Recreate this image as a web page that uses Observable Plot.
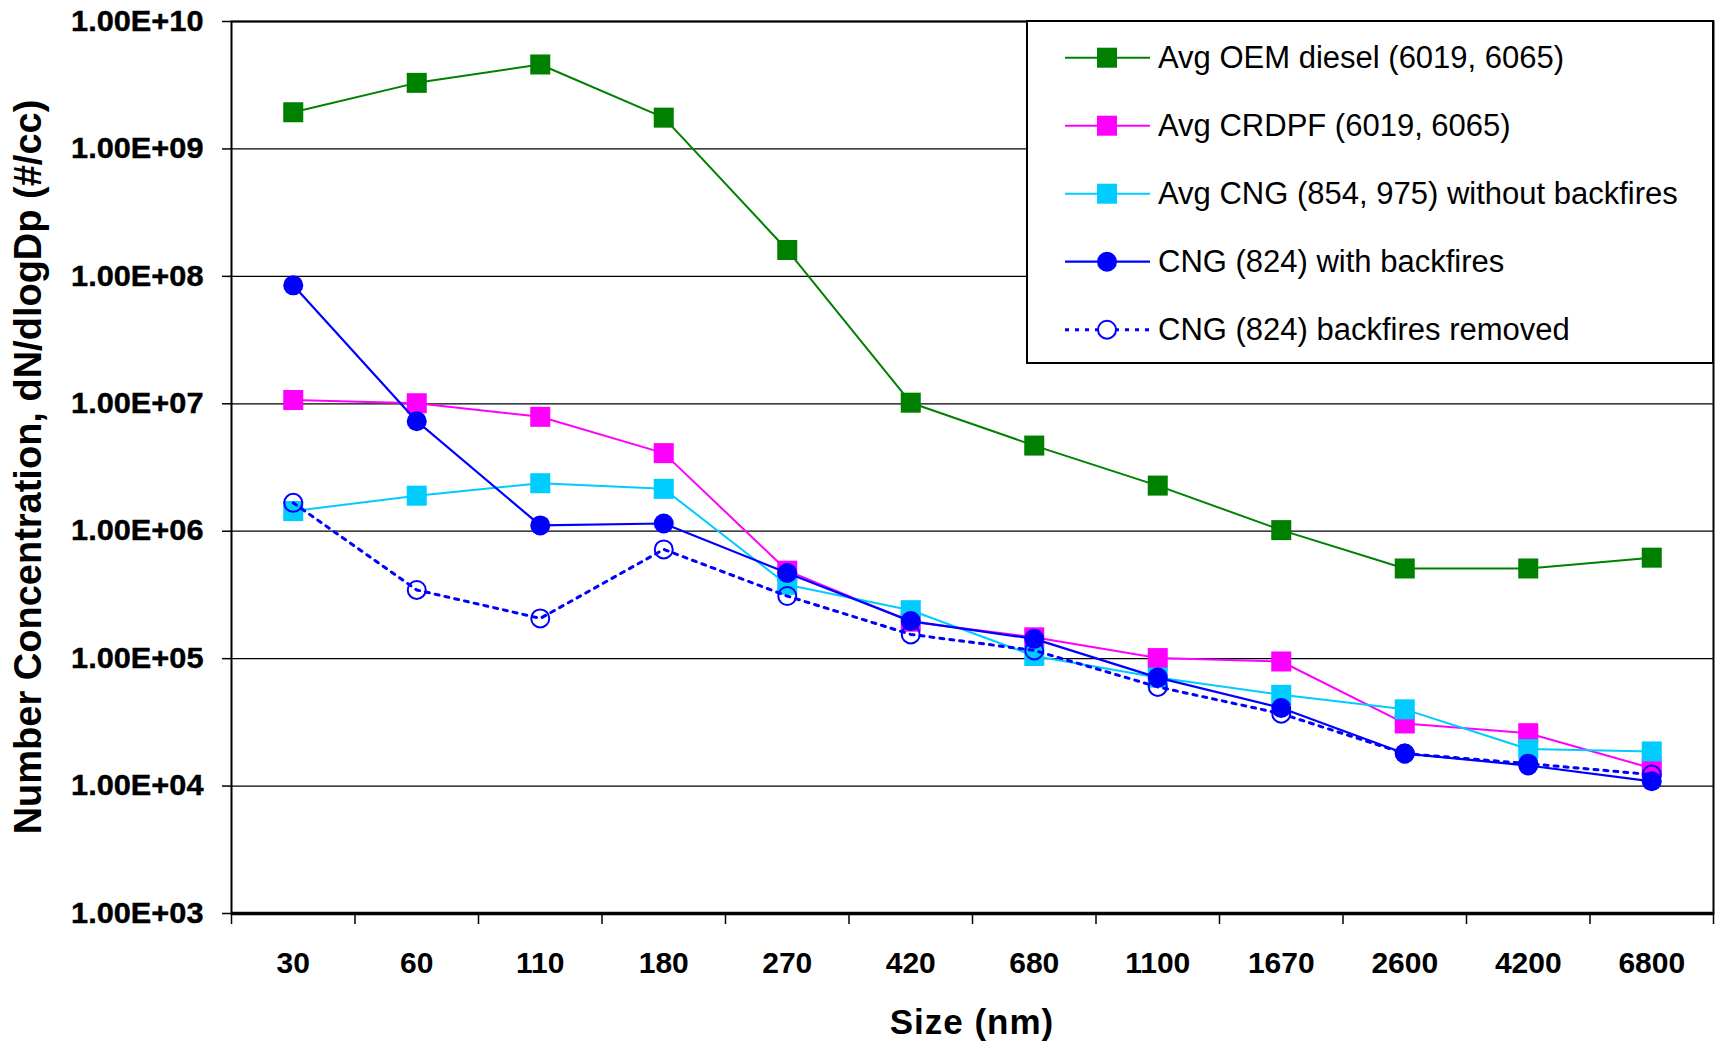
<!DOCTYPE html>
<html>
<head>
<meta charset="utf-8">
<script src="https://cdn.jsdelivr.net/npm/d3@7"></script>
<script src="https://cdn.jsdelivr.net/npm/@observablehq/plot@0.6"></script>
<style>
  html, body { margin: 0; padding: 0; background: #fff; }
  #chart { width: 1715px; height: 1045px; }
</style>
</head>
<body>
<div id="chart"></div>
<script>
// ---- Data ----
const categories = ["30", "60", "110", "180", "270", "420", "680", "1100", "1670", "2600", "4200", "6800"];

const seriesNames = [
  "Avg OEM diesel (6019, 6065)",
  "Avg CRDPF (6019, 6065)",
  "Avg CNG (854, 975) without backfires",
  "CNG (824) with backfires",
  "CNG (824) backfires removed"
];

const oemDiesel    = [1.94e9, 3.3e9, 4.6e9, 1.76e9, 1.61e8, 1.02e7, 4.7e6, 2.28e6, 1.02e6, 5.1e5, 5.1e5, 6.2e5];
const crdpf        = [1.07e7, 1.01e7, 7.9e6, 4.1e6, 4.9e5, 1.95e5, 1.47e5, 1.01e5, 9.5e4, 3.1e4, 2.6e4, 1.38e4];
const cngAvg       = [1.44e6, 1.9e6, 2.38e6, 2.15e6, 3.8e5, 2.4e5, 1.05e5, 7.1e4, 5.2e4, 4.0e4, 1.95e4, 1.87e4];
const cngBackfires = [8.5e7, 7.3e6, 1.11e6, 1.15e6, 4.7e5, 1.97e5, 1.43e5, 7.1e4, 4.1e4, 1.8e4, 1.45e4, 1.09e4];
const cngRemoved   = [1.67e6, 3.46e5, 2.07e5, 7.2e5, 3.1e5, 1.55e5, 1.16e5, 6.0e4, 3.7e4, 1.8e4, 1.5e4, 1.23e4];

const yTicks      = [1e3, 1e4, 1e5, 1e6, 1e7, 1e8, 1e9, 1e10];
const yTickLabels = ["1.00E+03", "1.00E+04", "1.00E+05", "1.00E+06", "1.00E+07", "1.00E+08", "1.00E+09", "1.00E+10"];

const xTitle = "Size (nm)";
const yTitle = "Number Concentration, dN/dlogDp (#/cc)";

// ---- Styles ----
const colors  = ["#008000", "#FF00FF", "#00CCFF", "#0000FF", "#0000FF"];
const markers = ["square", "square", "square", "disc", "ring"];
const lineWidths = [2, 2, 2, 2.2, 3];
const lineDash = [null, null, null, null, "4,6"];

// ---- Layout ----
const W = 1715, H = 1045, ML = 231, MR = 2, MT = 21, MB = 132;
const bw = (W - ML - MR) / categories.length;
const FONT = "'Liberation Sans', Arial, Helvetica, sans-serif";

const seriesValues = [oemDiesel, crdpf, cngAvg, cngBackfires, cngRemoved];
const rowsOf = k => categories.map((c, i) => ({size: c, value: seriesValues[k][i], series: seriesNames[k]}));
const labelMap = new Map(yTicks.map((v, i) => [v, yTickLabels[i]]));

const seriesMarks = [];
seriesValues.forEach((vals, k) => {
  const data = rowsOf(k);
  const lineOpts = {x: "size", y: "value", stroke: colors[k], strokeWidth: lineWidths[k]};
  if (lineDash[k]) lineOpts.strokeDasharray = lineDash[k];
  seriesMarks.push(Plot.line(data, lineOpts));
  if (markers[k] === "square") {
    seriesMarks.push(Plot.dot(data, {x: "size", y: "value", symbol: "square", r: 11.3, fill: colors[k], stroke: "none"}));
  } else if (markers[k] === "disc") {
    seriesMarks.push(Plot.dot(data, {x: "size", y: "value", r: 10, fill: colors[k], stroke: "none"}));
  } else {
    seriesMarks.push(Plot.dot(data, {x: "size", y: "value", r: 9, fill: "none", stroke: colors[k], strokeWidth: 2}));
  }
});

const plot = Plot.plot({
  width: W,
  height: H,
  marginLeft: ML,
  marginRight: MR,
  marginTop: MT,
  marginBottom: MB,
  style: {fontFamily: FONT, color: "#000", background: "#fff", overflow: "visible"},
  x: {type: "band", domain: categories, padding: 0, round: false},
  y: {type: "log", domain: [1e3, 1e10]},
  marks: [
    Plot.gridY({ticks: yTicks, stroke: "#000", strokeOpacity: 1, strokeWidth: 1.3}),
    Plot.frame({stroke: "#000", strokeWidth: 2}),
    Plot.axisY({ticks: yTicks, tickFormat: d => labelMap.get(d), tickSize: 9, tickPadding: 19,
                fontSize: 29, fontWeight: "bold", stroke: "#000", strokeWidth: 1.5, label: null}),
    Plot.axisX({tickSize: 0, tickPadding: 38, fontSize: 30, fontWeight: "bold", label: null}),
    Plot.axisX({tickSize: 11, fill: "none", label: null, dx: -bw / 2, stroke: "#000", strokeWidth: 1.5}),
    Plot.axisX({ticks: [categories[categories.length - 1]], tickSize: 11, fill: "none", label: null, dx: bw / 2, stroke: "#000", strokeWidth: 1.5}),
    Plot.ruleY([1e3], {stroke: "#000", strokeWidth: 3.5}),
    ...seriesMarks
  ]
});

document.getElementById("chart").appendChild(plot);

const svg = d3.select(plot.tagName.toLowerCase() === "svg" ? plot : plot.querySelector("svg"));

// Slightly widen and thicken the y tick labels like the reference
svg.selectAll('g[aria-label="y-axis tick label"] text').each(function () {
  const t = this.getAttribute("transform");
  if (t && t.includes("translate")) {
    this.setAttribute("transform", t + " scale(1.06,1)");
  } else {
    const x = +this.getAttribute("x") || 0, y = +this.getAttribute("y") || 0;
    this.removeAttribute("x"); this.removeAttribute("y");
    this.setAttribute("transform", `translate(${x},${y}) scale(1.06,1)`);
  }
  this.setAttribute("stroke", "#000");
  this.setAttribute("stroke-width", "0.4");
});

// Axis titles
svg.append("text")
  .attr("x", ML + (W - ML - MR) / 2).attr("y", 1034)
  .attr("text-anchor", "middle")
  .attr("font-family", FONT).attr("font-weight", "bold").attr("font-size", 35)
  .attr("letter-spacing", 1)
  .attr("fill", "#000")
  .text(xTitle);

svg.append("text")
  .attr("transform", `translate(41,${MT + (H - MB - MT) / 2}) rotate(-90)`)
  .attr("text-anchor", "middle")
  .attr("font-family", FONT).attr("font-weight", "bold").attr("font-size", 38)
  .attr("fill", "#000")
  .text(yTitle);

// Legend
const lg = svg.append("g").attr("font-family", FONT).attr("text-anchor", "start");
lg.append("rect")
  .attr("x", 1027).attr("y", MT).attr("width", W - MR - 1027).attr("height", 342)
  .attr("fill", "#fff").attr("stroke", "#000").attr("stroke-width", 2);

seriesNames.forEach((name, k) => {
  const cy = 57.7 + k * 68;
  const row = lg.append("g");
  const ln = row.append("line")
    .attr("x1", 1065).attr("x2", 1150).attr("y1", cy).attr("y2", cy)
    .attr("stroke", colors[k]).attr("stroke-width", lineWidths[k]);
  if (lineDash[k]) ln.attr("stroke-dasharray", lineDash[k]);
  if (markers[k] === "square") {
    row.append("rect").attr("x", 1107 - 10).attr("y", cy - 10).attr("width", 20).attr("height", 20).attr("fill", colors[k]);
  } else if (markers[k] === "disc") {
    row.append("circle").attr("cx", 1107).attr("cy", cy).attr("r", 10).attr("fill", colors[k]);
  } else {
    row.append("circle").attr("cx", 1107).attr("cy", cy).attr("r", 9).attr("fill", "#fff").attr("stroke", colors[k]).attr("stroke-width", 2);
  }
  row.append("text")
    .attr("x", 1158).attr("y", cy + 10)
    .attr("text-anchor", "start")
    .attr("font-size", 31).attr("fill", "#000")
    .text(name);
});
</script>
</body>
</html>
